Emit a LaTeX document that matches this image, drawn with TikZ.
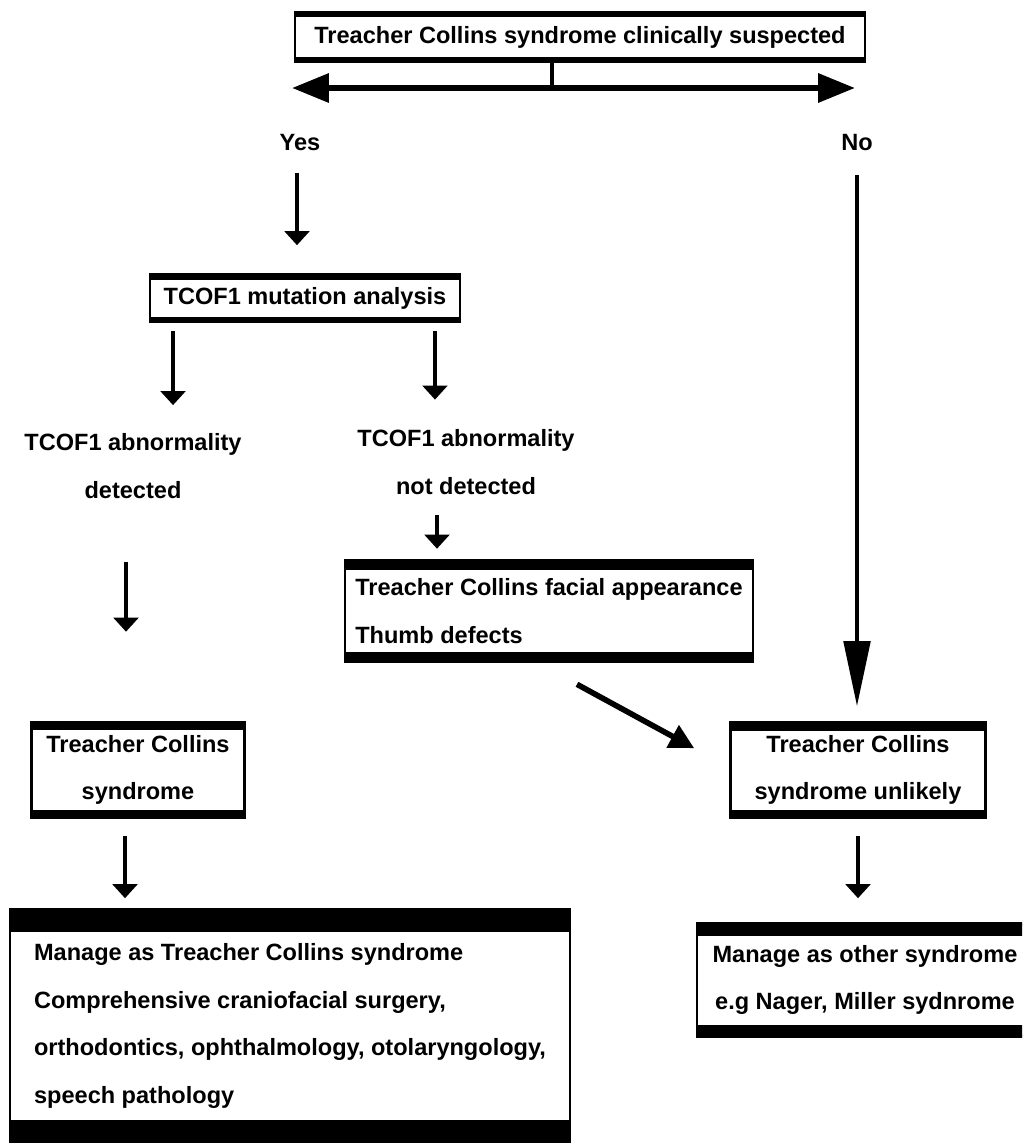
\documentclass[tikz,border=0pt]{standalone}
\usepackage{fontspec}
\setmainfont{Liberation Sans}
\usetikzlibrary{arrows.meta, positioning}

\begin{document}
\begin{tikzpicture}[x=0.02cm, y=-0.02cm, every node/.style={font=\fontsize{13.4}{27.2}\selectfont\bfseries, align=center, inner sep=0pt}]
    % Define styles with \tikzset
    \tikzset{
        tcbox/.style={draw, line width=1.5pt, fill=white, path picture={
            \fill[black] (path picture bounding box.north west) rectangle ([yshift=-#1]path picture bounding box.north east);
            \fill[black] (path picture bounding box.south west) rectangle ([yshift=#1]path picture bounding box.south east);}},
        tcbox/.default=0.1cm,
        leftbox/.style={tcbox=#1, align=left},
        arr/.style={line width=2.5pt, -{Triangle[length=8pt, width=14pt]}},
        bigarr/.style={line width=3.4pt, {Triangle[length=21pt, width=16pt]}-{Triangle[length=21pt, width=16pt]}},
        longarr/.style={line width=2.3pt, -{Triangle[length=37pt, width=15pt]}},
        diagarr/.style={line width=3.2pt, -{Triangle[length=14pt, width=14pt]}}
    }

    \useasboundingbox (0,0) rectangle (1022,1143);
    \clip (0,0) rectangle (1022,1143);

    % --- TOP: CLINICAL SUSPICION ---
    \node (susp) [tcbox, minimum width=11.4cm, minimum height=1cm] at (580,37) {Treacher Collins syndrome clinically suspected};
    \coordinate (hl) at (292,88);
    \coordinate (hr) at (855,88);
    \coordinate (stem) at (552,88);
    \draw[line width=2.4pt] (susp.south -| stem) -- (stem);
    \draw[bigarr] (hl) -- (hr);

    \node (yes) at (300,143) {Yes};
    \node (no) at (857,143) {No};

    % --- YES BRANCH ---
    \node (tcof) [tcbox, minimum width=6.2cm, minimum height=0.94cm] at (305,298) {TCOF1 mutation analysis};
    \draw[arr, shorten <=0.43cm, shorten >=0.56cm] ([xshift=-0.06cm]yes.south) -- ([xshift=-0.06cm]yes.south |- tcof.north);

    \node (det) at (133,466) {TCOF1 abnormality\\detected};
    \node (notdet) at (466,462) {TCOF1 abnormality\\not detected};
    \draw[arr, shorten <=0.16cm, shorten >=0.56cm] ([xshift=-2.64cm]tcof.south) -- ([xshift=-2.64cm]tcof.south |- det.north);
    \draw[arr, shorten <=0.16cm, shorten >=0.59cm] ([xshift=2.6cm]tcof.south) -- ([xshift=2.6cm]tcof.south |- notdet.north);

    % Facial appearance
    \node (facial) [leftbox=0.2cm, minimum width=8.16cm, minimum height=2.04cm] at (549,611) {Treacher Collins facial appearance\\Thumb defects};
    \draw[arr, shorten <=0.4cm, shorten >=0.2cm] ([xshift=-0.58cm]notdet.south) -- ([xshift=-0.58cm]notdet.south |- facial.north);

    % Treacher Collins syndrome
    \node (tcs) [tcbox=0.16cm, minimum width=4.26cm, minimum height=1.92cm] at (138,770) {Treacher Collins\\syndrome};
    \draw[arr, shorten <=1.26cm, shorten >=1.78cm] ([xshift=-0.14cm]det.south) -- ([xshift=-0.14cm]det.south |- tcs.north);

    % Management
    \node (manage) [leftbox=0.44cm, minimum width=11.2cm, minimum height=4.66cm] at (290,1026) {Manage as Treacher Collins syndrome\\Comprehensive craniofacial surgery,\\orthodontics, ophthalmology, otolaryngology,\\speech pathology};
    \draw[arr, shorten <=0.34cm, shorten >=0.2cm] ([xshift=-0.26cm]tcs.south) -- ([xshift=-0.26cm]tcs.south |- manage.north);

    % --- NO BRANCH ---
    \node (unlikely) [tcbox=0.16cm, minimum width=5.1cm, minimum height=1.9cm] at (858,770) {Treacher Collins\\syndrome unlikely};
    \draw[longarr, shorten <=0.47cm, shorten >=0.3cm] (no.south) -- (no.south |- unlikely.north);
    \draw[diagarr] ([xshift=0.56cm, yshift=-0.42cm]facial.south) -- ([xshift=-0.7cm, yshift=-0.54cm]unlikely.north west);

    \node (other) [tcbox=0.24cm, minimum width=6.72cm, minimum height=2.26cm] at (865,980) {Manage as other syndrome\\e.g Nager, Miller sydnrome};
    \draw[arr, shorten <=0.34cm, shorten >=0.48cm] (unlikely.south) -- (unlikely.south |- other.north);

\end{tikzpicture}
\end{document}
